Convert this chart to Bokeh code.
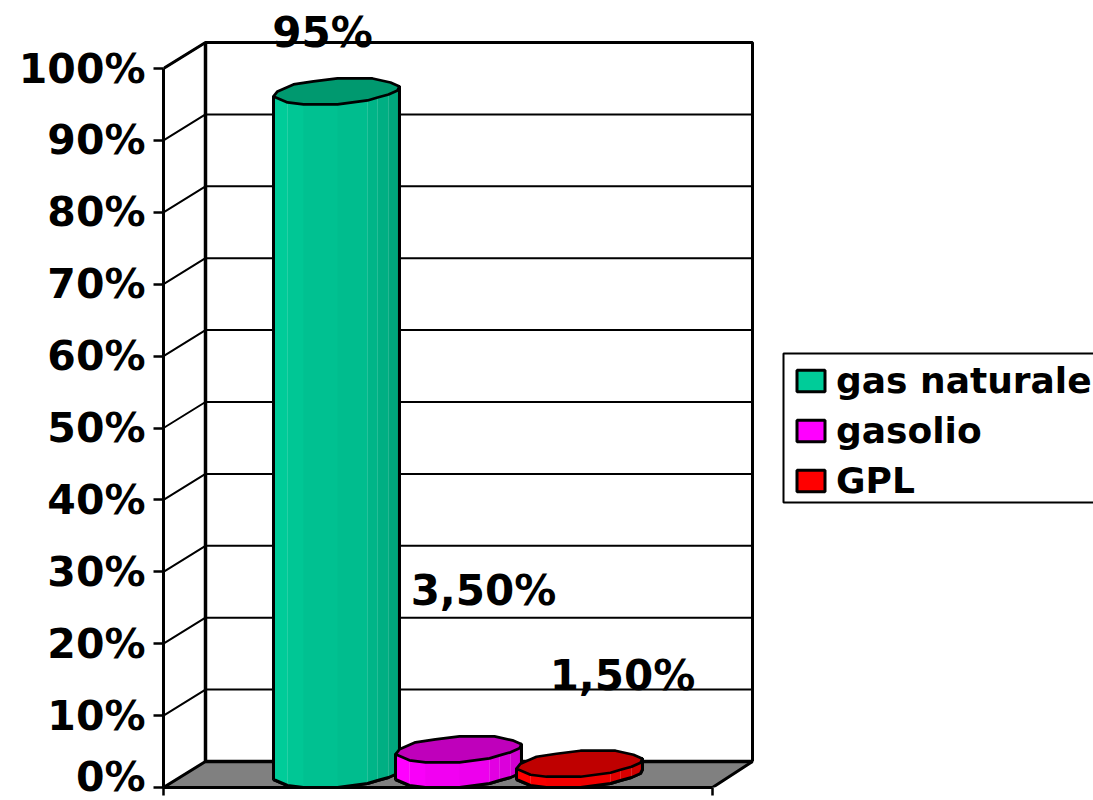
from bokeh.plotting import figure
from bokeh.models import Range1d, FixedTicker, PrintfTickFormatter, Legend, LegendItem
from bokeh.core.properties import value
from bokeh.embed import file_html
from bokeh.resources import INLINE

# ---- data ----
series = ["gas naturale", "gasolio", "GPL"]
values = [95, 3.5, 1.5]
value_labels = ["95%", "3,50%", "1,50%"]
tick_values = [0, 10, 20, 30, 40, 50, 60, 70, 80, 90, 100]
side_colors = [(0, 204, 153), (255, 0, 255), (255, 0, 0)]
top_colors = ["#00996F", "#BF00BB", "#BF0000"]

# ---- layout (pixels / percent scale) ----
FONT = "DejaVu Sans"
W, H = 1093, 800
LEFT, BOTTOM = 163, 13
PX = 7.19                     # pixels per percent
DX, DY = 42, 26 / PX          # depth offset of back wall
FLOOR_W = 549
BACK_RIGHT = 589
CENTERS = [173, 295, 416]     # bar centres along the floor
BASE = 13 / PX                # centre of bar bases above the axis
LABEL_POS = [(159, 105.0), (320, 27.4), (459, 15.6)]
# outline of a bar's cross-section (pixels from its centre)
LOWER = [(-63, 5), (-49, 11), (-33, 13), (1, 13), (31, 9), (41, 6), (52, 3), (61, -1), (63, -5)]
UPPER = [(54, -9), (36, -13), (1, -13), (-23, -10), (-43, -7), (-59, 0)]
SHADE = [1.0, 0.98, 0.95, 0.93, 0.89, 0.86, 0.82, 0.76]
FACET_EDGES = [1, 4, 5, 6]

inner_w = W - LEFT
inner_h = H - BOTTOM
p = figure(width=W, height=H, output_backend="svg", toolbar_location=None,
           x_range=Range1d(0, inner_w), y_range=Range1d(0, inner_h / PX),
           min_border_left=LEFT, min_border_right=0, min_border_top=0, min_border_bottom=BOTTOM,
           outline_line_color=None, background_fill_color="white", border_fill_color="white")
p.grid.visible = False

ax = p.yaxis[0]
ax.bounds = (0, 100)
ax.ticker = FixedTicker(ticks=tick_values)
ax.formatter = PrintfTickFormatter(format="%d%%")
ax.axis_line_color = "black"; ax.axis_line_width = 3
ax.major_tick_line_color = "black"; ax.major_tick_line_width = 2.5
ax.major_tick_out = 10; ax.major_tick_in = 0
ax.minor_tick_line_color = None
ax.major_label_text_font = FONT; ax.major_label_text_font_style = "bold"
ax.major_label_text_font_size = "41px"; ax.major_label_text_color = "black"
ax.major_label_standoff = 8

xa = p.xaxis[0]
xa.bounds = (0, FLOOR_W)
xa.ticker = FixedTicker(ticks=[0, FLOOR_W])
xa.major_label_overrides = {0: "", FLOOR_W: ""}
xa.major_label_standoff = 0
xa.axis_line_color = "black"; xa.axis_line_width = 3
xa.major_tick_line_color = "black"; xa.major_tick_line_width = 2.5
xa.major_tick_out = 8; xa.major_tick_in = 0
xa.minor_tick_line_color = None

# floor
p.patch([0, DX, BACK_RIGHT, FLOOR_W], [0, DY, DY, 0],
        fill_color="#808080", line_color="black", line_width=3)

# gridlines on side and back wall
gx = [[0, DX, BACK_RIGHT] for t in tick_values[1:]]
gy = [[t, t + DY, t + DY] for t in tick_values[1:]]
p.multi_line(gx, gy, line_color="black", line_width=2)
# wall frame
top = 100 + DY
p.line([0, DX, BACK_RIGHT, BACK_RIGHT], [100, top, top, DY], line_color="black", line_width=3)
p.line([DX, DX, BACK_RIGHT], [top, DY, DY], line_color="black", line_width=3.5)

# bars
items = []
for name, val, cx, rgb, tc in zip(series, values, CENTERS, side_colors, top_colors):
    y_top = BASE + val
    lx = [cx + a for a, _ in LOWER]
    ly = [BASE - b / PX for _, b in LOWER]
    body_x = lx + [cx + LOWER[-1][0], cx + LOWER[0][0]]
    body_y = ly + [y_top + 5 / PX, y_top - 5 / PX]
    hexc = "#%02x%02x%02x" % rgb
    body = p.patch(body_x, body_y, fill_color=hexc, line_color="black", line_width=3)
    items.append(LegendItem(label=name, renderers=[body]))
    for i, s in enumerate(SHADE):
        c = "#%02x%02x%02x" % tuple(int(v * s) for v in rgb)
        xs = [lx[i], lx[i + 1], lx[i + 1], lx[i]]
        ys = [ly[i], ly[i + 1], y_top - LOWER[i + 1][1] / PX, y_top - LOWER[i][1] / PX]
        p.patch(xs, ys, fill_color=c, line_color=c, line_width=0.5)
    for i in FACET_EDGES:
        p.line([lx[i], lx[i]], [ly[i], y_top - LOWER[i][1] / PX],
               line_color="white", line_alpha=0.15, line_width=1)
    p.line(body_x + body_x[:1], body_y + body_y[:1], line_color="black", line_width=3)
    ring = LOWER + UPPER
    p.patch([cx + a for a, _ in ring], [y_top - b / PX for _, b in ring],
            fill_color=tc, line_color="black", line_width=2.7)

# value labels
p.text([q[0] for q in LABEL_POS], [q[1] for q in LABEL_POS], text=value_labels,
       text_font=value(FONT), text_font_style="bold", text_font_size="42px",
       text_color="black", text_align="center", text_baseline="middle")

# legend frame (runs off the right edge like the reference) and legend
p.quad(left=[620], right=[inner_w + 6], bottom=[285 / PX], top=[434 / PX],
       fill_color="white", line_color="black", line_width=2)
legend = Legend(items=items, location=(630, 286), orientation="vertical", margin=0,
                glyph_width=35, glyph_height=27, label_standoff=8,
                padding=0, spacing=9, label_height=30,
                label_text_font=FONT, label_text_font_style="bold",
                label_text_font_size="36px", label_text_color="black",
                border_line_color=None, background_fill_alpha=0.0)
p.add_layout(legend, "center")

open("out.html", "w").write(file_html(p, INLINE))
